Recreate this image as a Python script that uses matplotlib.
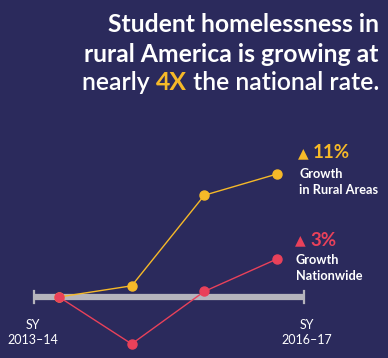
import matplotlib
matplotlib.use("Agg")
import matplotlib.pyplot as plt

years = ["SY\n2013–14", "", "", "SY\n2016–17"]
x = [0, 1, 2, 3]
rural = [0.0, 1.0, 9.1, 11.0]
national = [0.0, -4.2, 0.5, 3.4]
rural_label = "11%"
national_label = "3%"

BG = "#2b2a5c"
YEL = "#f6b928"
RED = "#e9415a"
GRAY = "#b5b4bc"
FONT = ["Lato", "DejaVu Sans"]

fig = plt.figure(figsize=(3.88, 3.58), dpi=100)
fig.patch.set_facecolor(BG)
ax = fig.add_axes([0, 0, 1, 1])
ax.set_facecolor(BG)
ax.set_xlim(-0.812, 4.527)
ax.set_ylim(-5.456, 26.56)
ax.axis("off")

# baseline
ax.plot([-0.344, 3.37], [0, 0], color=GRAY, lw=4.5, solid_capstyle="butt", zorder=1)
for xe in (-0.344, 3.37):
    ax.plot([xe, xe], [-0.55, 0.55], color=GRAY, lw=1.6, zorder=1)

ax.plot(x, rural, color=YEL, lw=1.0, marker="o", ms=6.5, mec=YEL, mfc=YEL, zorder=3, clip_on=False)
ax.plot(x, national, color=RED, lw=1.0, marker="o", ms=6.5, mec=RED, mfc=RED, zorder=4, clip_on=False)

def px(xp, yp):
    return (xp / 388, 1 - yp / 358)

# x labels
for xp, lab in ((33, years[0]), (307, years[3])):
    l1, l2 = lab.split("\n")
    fig.text(*px(xp, 325), l1, ha="center", va="center", color="white", fontsize=9, family=FONT)
    fig.text(*px(xp, 340), l2, ha="center", va="center", color="white", fontsize=9, family=FONT)

# annotations
fig.text(*px(298, 153), "▲", color=YEL, fontsize=10, ha="left", va="center", family=["DejaVu Sans"])
fig.text(*px(313, 153), rural_label, color=YEL, fontsize=13.5, ha="left", va="center",
         family=FONT, weight="bold")
fig.text(*px(299, 182), "Growth\nin Rural Areas", color="white", fontsize=9.2, ha="left",
         va="center", family=FONT, weight="bold", linespacing=1.3)

fig.text(*px(295, 240), "▲", color=RED, fontsize=10, ha="left", va="center", family=["DejaVu Sans"])
fig.text(*px(310, 240), national_label, color=RED, fontsize=13.5, ha="left", va="center",
         family=FONT, weight="bold")
fig.text(*px(296, 268), "Growth\nNationwide", color="white", fontsize=9.2, ha="left",
         va="center", family=FONT, weight="bold", linespacing=1.3)

# title
TS = 17.8
fig.text(*px(379, 25), "Student homelessness in", color="white", fontsize=TS, ha="right",
         va="center", family=FONT, weight="bold")
fig.text(*px(379, 54), "rural America is growing at", color="white", fontsize=TS, ha="right",
         va="center", family=FONT, weight="bold")
t3 = fig.text(*px(379, 82), " the national rate.", color="white", fontsize=TS, ha="right",
              va="center", family=FONT, weight="semibold")
fig.canvas.draw()
r = fig.canvas.get_renderer()
bb = t3.get_window_extent(r)
t4 = fig.text(bb.x0 / fig.bbox.width, 1 - 82 / 358, "4X", color=YEL, fontsize=TS, ha="right",
              va="center", family=FONT, weight="bold")
bb4 = t4.get_window_extent(r)
fig.text(bb4.x0 / fig.bbox.width, 1 - 82 / 358, "nearly ", color="white", fontsize=TS,
         ha="right", va="center", family=FONT, weight="semibold")

fig.savefig("out.png", dpi=100, facecolor=BG)
